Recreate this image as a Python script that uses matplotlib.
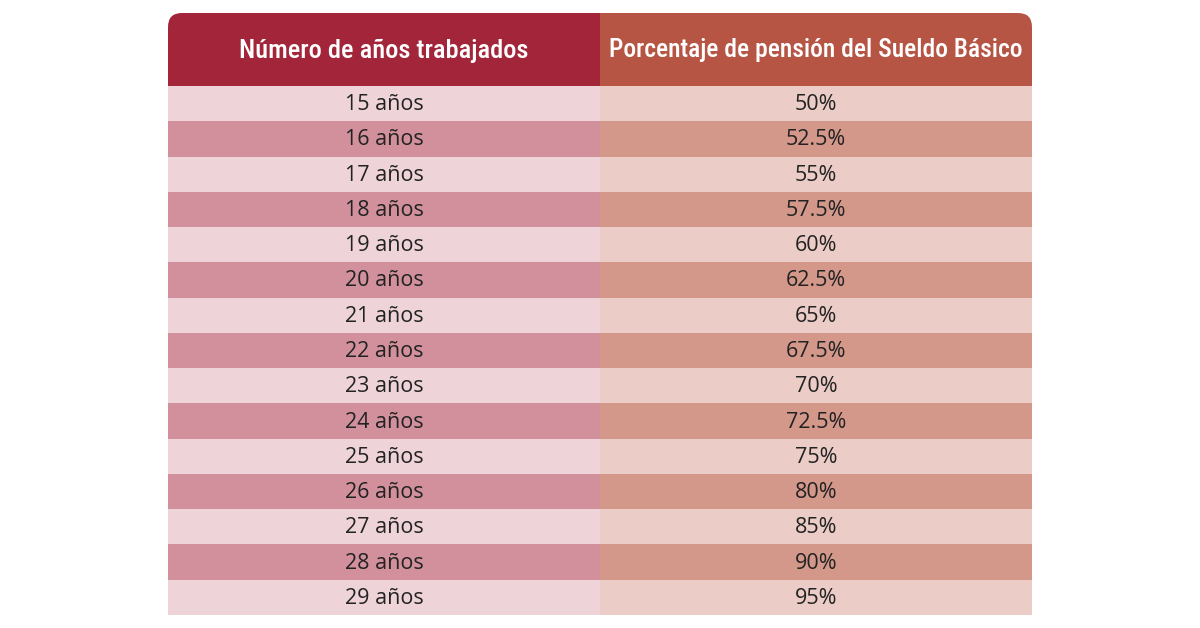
import matplotlib
matplotlib.use("Agg")
from matplotlib import pyplot as plt
from matplotlib import font_manager
from matplotlib.patches import Rectangle, FancyBboxPatch

# donnees du tableau
encabezados = ["Número de años trabajados", "Porcentaje de pensión del Sueldo Básico"]
anos = [15, 16, 17, 18, 19, 20, 21, 22, 23, 24, 25, 26, 27, 28, 29]
porcentajes = [50, 52.5, 55, 57.5, 60, 62.5, 65, 67.5, 70, 72.5, 75, 80, 85, 90, 95]

# couleurs
col_header = ["#A3253A", "#B75545"]
col_light = ["#EED4D9", "#ECCCC6"]
col_dark = ["#D1909C", "#D4988B"]

noms = set(f.name for f in font_manager.fontManager.ttflist)
print(sorted(noms))
def choisir(liste):
    for n in liste:
        if n in noms:
            return [n, 'DejaVu Sans']
    return ['DejaVu Sans']

police_tete = choisir(['Liberation Sans Narrow', 'DejaVu Sans Condensed', 'Roboto Condensed', 'Roboto'])
police_corps = choisir(['Open Sans', 'Noto Sans', 'Lato'])
print(police_tete, police_corps)

x0, xm, x1 = 168, 600, 1032
y_top, y_head, y_bot = 13, 86, 615
h = (y_bot - y_head) / len(anos)
r = 14

fig = plt.figure(figsize=(12, 6.28), dpi=100)
ax = fig.add_axes([0, 0, 1, 1])
ax.set_xlim(0, 1200)
ax.set_ylim(628, 0)
ax.axis('off')

# en-tete avec coins arrondis
for i, (xa, xb) in enumerate([(x0, xm), (xm, x1)]):
    ax.add_patch(FancyBboxPatch((xa, y_top), xb - xa, y_head - y_top,
                                boxstyle="round,pad=0,rounding_size=%d" % r,
                                fc=col_header[i], ec='none', mutation_aspect=1))
    # on remet les coins carres la ou il faut
    ax.add_patch(Rectangle((xa, y_top + r), xb - xa, y_head - y_top - r,
                           fc=col_header[i], ec='none'))
    if i == 0:
        ax.add_patch(Rectangle((xb - r, y_top), r, r, fc=col_header[i], ec='none'))
    else:
        ax.add_patch(Rectangle((xa, y_top), r, r, fc=col_header[i], ec='none'))
    t = ax.text((xa + xb) / 2, (y_top + y_head) / 2 + 1, encabezados[i],
                ha='center', va='center', color='white', fontsize=16,
                family=police_tete, fontweight='medium')
    # ajuste la largeur du texte a celle de la reference
    fig.canvas.draw()
    larg = t.get_window_extent().width
    cible = [290, 415][i]
    t.set_fontsize(16 * cible / larg)

# lignes
for k, (a, p) in enumerate(zip(anos, porcentajes)):
    y = y_head + k * h
    cols = col_light if k % 2 == 0 else col_dark
    ax.add_patch(Rectangle((x0, y), xm - x0, h, fc=cols[0], ec='none'))
    ax.add_patch(Rectangle((xm, y), x1 - xm, h, fc=cols[1], ec='none'))
    txt_p = ("%g" % p) + "%"
    ax.text((x0 + xm) / 2, y + h / 2 + 1, "%d años" % a, ha='center', va='center',
            color='#222222', fontsize=15.5, family=police_corps)
    ax.text((xm + x1) / 2, y + h / 2 + 1, txt_p, ha='center', va='center',
            color='#222222', fontsize=15.5, family=police_corps)

fig.savefig("out.png", dpi=100, facecolor='white')
